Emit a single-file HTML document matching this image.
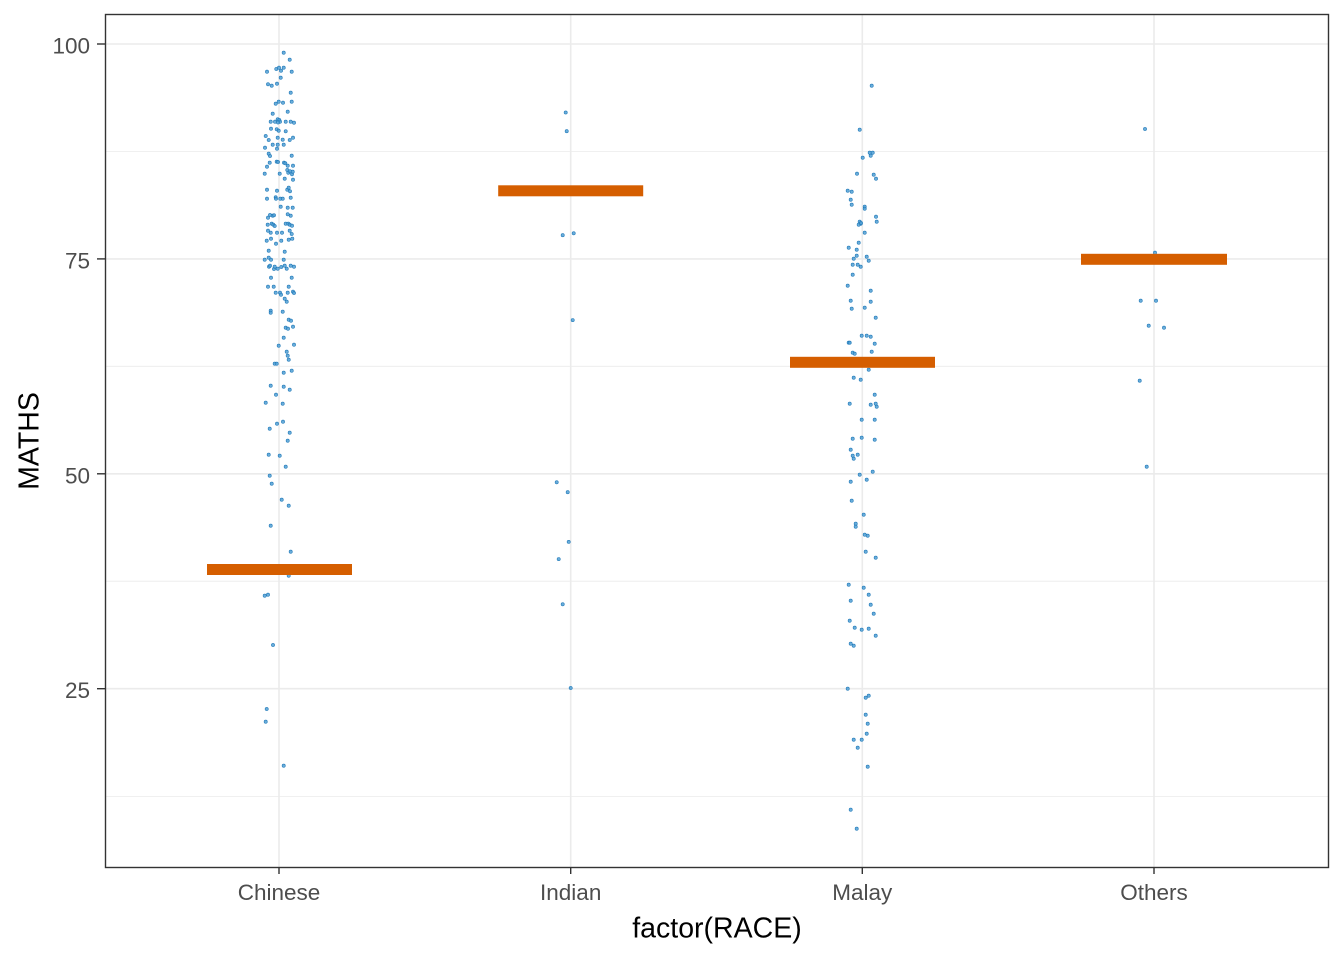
<!DOCTYPE html>
<html>
<head>
<meta charset="utf-8">
<style>
html,body{margin:0;padding:0;background:#fff;}
svg{display:block;}
</style>
</head>
<body>
<svg width="1344" height="960" viewBox="0 0 1344 960" xmlns="http://www.w3.org/2000/svg">
<rect x="0" y="0" width="1344" height="960" fill="#ffffff"/>
<!-- minor gridlines -->
<g stroke="#ebebeb" stroke-width="0.8">
<line x1="105.5" x2="1328.5" y1="151.5" y2="151.5"/>
<line x1="105.5" x2="1328.5" y1="366.3" y2="366.3"/>
<line x1="105.5" x2="1328.5" y1="581.2" y2="581.2"/>
<line x1="105.5" x2="1328.5" y1="796.6" y2="796.6"/>
</g>
<!-- major gridlines -->
<g stroke="#ebebeb" stroke-width="1.6">
<line x1="105.5" x2="1328.5" y1="44" y2="44"/>
<line x1="105.5" x2="1328.5" y1="258.9" y2="258.9"/>
<line x1="105.5" x2="1328.5" y1="473.8" y2="473.8"/>
<line x1="105.5" x2="1328.5" y1="688.7" y2="688.7"/>
<line x1="279" x2="279" y1="14.5" y2="867.5"/>
<line x1="570.7" x2="570.7" y1="14.5" y2="867.5"/>
<line x1="862.3" x2="862.3" y1="14.5" y2="867.5"/>
<line x1="1154" x2="1154" y1="14.5" y2="867.5"/>
</g>
<!-- points -->
<g fill="#4f9fd3" fill-opacity="0.85" stroke="#1f78b8" stroke-width="0.6">
<!-- Chinese -->
<circle cx="283.7" cy="52.7" r="1.6"/><circle cx="289.7" cy="59.7" r="1.6"/><circle cx="267" cy="71.7" r="1.6"/><circle cx="276.3" cy="69" r="1.6"/><circle cx="279" cy="67.7" r="1.6"/><circle cx="281" cy="70.7" r="1.6"/><circle cx="283.7" cy="67.7" r="1.6"/><circle cx="291.7" cy="71.7" r="1.6"/><circle cx="280.7" cy="77.7" r="1.6"/><circle cx="268" cy="84.3" r="1.6"/><circle cx="271.7" cy="85.7" r="1.6"/><circle cx="277" cy="83.7" r="1.6"/><circle cx="290.7" cy="92.7" r="1.6"/><circle cx="291.7" cy="101.7" r="1.6"/><circle cx="275.7" cy="103.7" r="1.6"/><circle cx="278.7" cy="101.7" r="1.6"/><circle cx="283" cy="102.7" r="1.6"/><circle cx="287.7" cy="111.7" r="1.6"/><circle cx="272.7" cy="113.7" r="1.6"/><circle cx="270.7" cy="121.7" r="1.6"/><circle cx="275" cy="121.7" r="1.6"/><circle cx="277.7" cy="119.3" r="1.6"/><circle cx="279.3" cy="120" r="1.6"/><circle cx="280" cy="121.7" r="1.6"/><circle cx="278" cy="122.5" r="1.6"/><circle cx="285.7" cy="121.7" r="1.6"/><circle cx="290.7" cy="121.7" r="1.6"/><circle cx="294" cy="122.7" r="1.6"/><circle cx="276.7" cy="129.3" r="1.6"/><circle cx="278.7" cy="130.7" r="1.6"/><circle cx="271" cy="128.7" r="1.6"/><circle cx="285.7" cy="131.3" r="1.6"/><circle cx="265.7" cy="136" r="1.6"/><circle cx="268.7" cy="140" r="1.6"/><circle cx="277.7" cy="137.7" r="1.6"/><circle cx="282.7" cy="139.7" r="1.6"/><circle cx="289.7" cy="140" r="1.6"/><circle cx="293" cy="137.7" r="1.6"/><circle cx="272.7" cy="144.7" r="1.6"/><circle cx="277.7" cy="144.7" r="1.6"/><circle cx="283.7" cy="144.7" r="1.6"/><circle cx="277" cy="148.7" r="1.6"/><circle cx="265" cy="147.7" r="1.6"/><circle cx="268.7" cy="153.7" r="1.6"/><circle cx="270" cy="156" r="1.6"/><circle cx="291.7" cy="155.7" r="1.6"/><circle cx="269.7" cy="162.7" r="1.6"/><circle cx="267" cy="166.7" r="1.6"/><circle cx="276.7" cy="161.7" r="1.6"/><circle cx="278" cy="162" r="1.6"/><circle cx="284" cy="162.7" r="1.6"/><circle cx="285.3" cy="163.3" r="1.6"/><circle cx="287.7" cy="165.7" r="1.6"/><circle cx="293" cy="165.7" r="1.6"/><circle cx="264.7" cy="173.7" r="1.6"/><circle cx="279.7" cy="173.7" r="1.6"/><circle cx="287.3" cy="170" r="1.6"/><circle cx="288.3" cy="172.7" r="1.6"/><circle cx="290" cy="171.3" r="1.6"/><circle cx="292" cy="174.3" r="1.6"/><circle cx="292.7" cy="171.7" r="1.6"/><circle cx="293" cy="179.7" r="1.6"/><circle cx="284.7" cy="178.7" r="1.6"/><circle cx="267" cy="189.7" r="1.6"/><circle cx="277" cy="190.7" r="1.6"/><circle cx="287.3" cy="189.7" r="1.6"/><circle cx="288.7" cy="187.7" r="1.6"/><circle cx="290" cy="191.3" r="1.6"/><circle cx="267" cy="198.7" r="1.6"/><circle cx="275.7" cy="197.3" r="1.6"/><circle cx="276" cy="198.7" r="1.6"/><circle cx="280.3" cy="198.7" r="1.6"/><circle cx="282.7" cy="198.7" r="1.6"/><circle cx="290.7" cy="197.7" r="1.6"/><circle cx="280.7" cy="206.7" r="1.6"/><circle cx="287.7" cy="207.7" r="1.6"/><circle cx="292.7" cy="207.7" r="1.6"/><circle cx="268" cy="217.7" r="1.6"/><circle cx="270" cy="215" r="1.6"/><circle cx="272.7" cy="215.7" r="1.6"/><circle cx="274" cy="215.3" r="1.6"/><circle cx="287.7" cy="214.3" r="1.6"/><circle cx="290.7" cy="215.7" r="1.6"/>
<circle cx="267.7" cy="224.7" r="1.6"/><circle cx="271.7" cy="223.7" r="1.6"/><circle cx="273.3" cy="224.7" r="1.6"/><circle cx="274.7" cy="226" r="1.6"/><circle cx="285.7" cy="223.7" r="1.6"/><circle cx="288.3" cy="223.7" r="1.6"/><circle cx="289.7" cy="224.7" r="1.6"/><circle cx="292" cy="225.7" r="1.6"/><circle cx="268" cy="230.7" r="1.6"/><circle cx="270.7" cy="232.7" r="1.6"/><circle cx="277" cy="232.7" r="1.6"/><circle cx="282" cy="232.7" r="1.6"/><circle cx="289.7" cy="230.7" r="1.6"/><circle cx="291.7" cy="234" r="1.6"/><circle cx="292.3" cy="238.7" r="1.6"/><circle cx="288.7" cy="239.7" r="1.6"/><circle cx="281.3" cy="240.7" r="1.6"/><circle cx="266.7" cy="240.7" r="1.6"/><circle cx="271" cy="238.7" r="1.6"/><circle cx="276" cy="243.7" r="1.6"/><circle cx="268.7" cy="250.7" r="1.6"/><circle cx="284.7" cy="251.7" r="1.6"/><circle cx="264.7" cy="259.7" r="1.6"/><circle cx="268.7" cy="257.7" r="1.6"/><circle cx="271" cy="259.7" r="1.6"/><circle cx="283.7" cy="259.7" r="1.6"/><circle cx="269" cy="266.7" r="1.6"/><circle cx="270" cy="265.7" r="1.6"/><circle cx="274" cy="269" r="1.6"/><circle cx="274.7" cy="266.7" r="1.6"/><circle cx="277.7" cy="268.7" r="1.6"/><circle cx="281.3" cy="267" r="1.6"/><circle cx="284.7" cy="265.7" r="1.6"/><circle cx="286.7" cy="268.7" r="1.6"/><circle cx="290.7" cy="265.7" r="1.6"/><circle cx="294" cy="266.7" r="1.6"/><circle cx="271" cy="277.7" r="1.6"/><circle cx="291.7" cy="277.7" r="1.6"/><circle cx="268" cy="286.7" r="1.6"/><circle cx="273.7" cy="286.7" r="1.6"/><circle cx="288.7" cy="286.7" r="1.6"/><circle cx="275.7" cy="292.7" r="1.6"/><circle cx="280" cy="292.7" r="1.6"/><circle cx="281" cy="294.7" r="1.6"/><circle cx="287.7" cy="292.7" r="1.6"/><circle cx="293" cy="291.7" r="1.6"/><circle cx="294" cy="293" r="1.6"/><circle cx="284.7" cy="298.7" r="1.6"/><circle cx="286.7" cy="301.7" r="1.6"/><circle cx="270.7" cy="310.7" r="1.6"/><circle cx="270.7" cy="312.7" r="1.6"/><circle cx="282.7" cy="311.7" r="1.6"/><circle cx="288.7" cy="319.7" r="1.6"/><circle cx="291" cy="320.7" r="1.6"/><circle cx="285.7" cy="327.7" r="1.6"/><circle cx="288" cy="328.7" r="1.6"/><circle cx="293" cy="326.7" r="1.6"/><circle cx="283.7" cy="337.7" r="1.6"/><circle cx="278.7" cy="345.7" r="1.6"/><circle cx="294" cy="344.7" r="1.6"/><circle cx="286.7" cy="351.7" r="1.6"/><circle cx="287.7" cy="355.7" r="1.6"/><circle cx="288.7" cy="359.7" r="1.6"/><circle cx="274.7" cy="363.7" r="1.6"/><circle cx="276.7" cy="363.7" r="1.6"/><circle cx="283.7" cy="372.7" r="1.6"/><circle cx="291.7" cy="370.7" r="1.6"/><circle cx="270.7" cy="385.7" r="1.6"/><circle cx="283.7" cy="386.7" r="1.6"/><circle cx="289.7" cy="389.7" r="1.6"/><circle cx="276" cy="394.7" r="1.6"/><circle cx="265.7" cy="402.7" r="1.6"/><circle cx="282.7" cy="403.7" r="1.6"/>
<circle cx="277" cy="423.7" r="1.6"/><circle cx="283" cy="421.7" r="1.6"/><circle cx="269.7" cy="428.7" r="1.6"/><circle cx="289.7" cy="432.7" r="1.6"/><circle cx="287.7" cy="440.7" r="1.6"/><circle cx="268.7" cy="454.7" r="1.6"/><circle cx="279.7" cy="455.7" r="1.6"/><circle cx="285.7" cy="466.7" r="1.6"/><circle cx="269.7" cy="475.7" r="1.6"/><circle cx="271.7" cy="483.7" r="1.6"/><circle cx="281.7" cy="499.7" r="1.6"/><circle cx="288.7" cy="505.7" r="1.6"/><circle cx="270.7" cy="525.7" r="1.6"/><circle cx="290.7" cy="551.7" r="1.6"/><circle cx="288.7" cy="575.7" r="1.6"/><circle cx="264.7" cy="595.7" r="1.6"/><circle cx="268" cy="594.7" r="1.6"/><circle cx="273" cy="645" r="1.6"/><circle cx="266.7" cy="709" r="1.6"/><circle cx="265.7" cy="721.7" r="1.6"/><circle cx="283.7" cy="765.7" r="1.6"/>
<!-- Indian -->
<circle cx="565.7" cy="112.5" r="1.6"/><circle cx="566.7" cy="131.2" r="1.6"/><circle cx="562.7" cy="235.2" r="1.6"/><circle cx="573.7" cy="233.3" r="1.6"/><circle cx="572.7" cy="320.1" r="1.6"/><circle cx="556.7" cy="482.3" r="1.6"/><circle cx="567.7" cy="492.2" r="1.6"/><circle cx="568.7" cy="541.9" r="1.6"/><circle cx="558.7" cy="559.1" r="1.6"/><circle cx="562.7" cy="604.3" r="1.6"/><circle cx="570.7" cy="688" r="1.6"/>
<!-- Malay -->
<circle cx="871.7" cy="85.7" r="1.6"/><circle cx="859.7" cy="129.7" r="1.6"/><circle cx="869.7" cy="152.7" r="1.6"/><circle cx="872.7" cy="152.7" r="1.6"/><circle cx="870.7" cy="155.7" r="1.6"/><circle cx="862.7" cy="157.7" r="1.6"/><circle cx="857" cy="173.7" r="1.6"/><circle cx="873.7" cy="174.7" r="1.6"/><circle cx="876" cy="178.7" r="1.6"/><circle cx="847.7" cy="190.7" r="1.6"/><circle cx="851.7" cy="191.7" r="1.6"/><circle cx="850.7" cy="199.7" r="1.6"/><circle cx="851.7" cy="204.7" r="1.6"/><circle cx="864.7" cy="206.7" r="1.6"/><circle cx="864.7" cy="208.7" r="1.6"/><circle cx="876" cy="216.7" r="1.6"/><circle cx="876.7" cy="221.7" r="1.6"/><circle cx="859.7" cy="221.7" r="1.6"/><circle cx="860.7" cy="223.7" r="1.6"/><circle cx="858.7" cy="224.7" r="1.6"/><circle cx="861" cy="223" r="1.6"/><circle cx="864.7" cy="232.7" r="1.6"/><circle cx="858.7" cy="242.7" r="1.6"/><circle cx="848.7" cy="247.7" r="1.6"/><circle cx="856.7" cy="249.7" r="1.6"/><circle cx="856.7" cy="255.7" r="1.6"/><circle cx="853.7" cy="258.7" r="1.6"/><circle cx="866.7" cy="256.7" r="1.6"/><circle cx="868.7" cy="260.7" r="1.6"/><circle cx="852.7" cy="264.7" r="1.6"/><circle cx="857.7" cy="264.7" r="1.6"/><circle cx="860.7" cy="266.7" r="1.6"/><circle cx="852.7" cy="274.7" r="1.6"/><circle cx="847.7" cy="285.7" r="1.6"/><circle cx="870.7" cy="290.7" r="1.6"/><circle cx="850.7" cy="300.7" r="1.6"/><circle cx="870.7" cy="301.7" r="1.6"/><circle cx="851.7" cy="308.7" r="1.6"/><circle cx="864.7" cy="307.7" r="1.6"/><circle cx="875.7" cy="317.7" r="1.6"/><circle cx="861.7" cy="335.7" r="1.6"/><circle cx="866.7" cy="335.7" r="1.6"/><circle cx="870.7" cy="336.7" r="1.6"/><circle cx="848.7" cy="342.7" r="1.6"/><circle cx="849.7" cy="342.7" r="1.6"/><circle cx="874.7" cy="343.7" r="1.6"/><circle cx="852.7" cy="352.7" r="1.6"/><circle cx="854.7" cy="353.7" r="1.6"/><circle cx="871.7" cy="351.7" r="1.6"/><circle cx="868.7" cy="369.7" r="1.6"/><circle cx="853.7" cy="377.7" r="1.6"/><circle cx="860.7" cy="379.7" r="1.6"/><circle cx="874.7" cy="394.7" r="1.6"/><circle cx="849.7" cy="403.7" r="1.6"/><circle cx="870.7" cy="404.7" r="1.6"/><circle cx="875.7" cy="403.7" r="1.6"/><circle cx="876.7" cy="406.7" r="1.6"/><circle cx="861.7" cy="419.7" r="1.6"/><circle cx="874.7" cy="419.7" r="1.6"/><circle cx="852.7" cy="438.7" r="1.6"/><circle cx="861.7" cy="437.7" r="1.6"/><circle cx="874.7" cy="439.7" r="1.6"/>
<circle cx="850.7" cy="449.7" r="1.6"/><circle cx="852.7" cy="455.7" r="1.6"/><circle cx="857.7" cy="454.7" r="1.6"/><circle cx="853.7" cy="458.7" r="1.6"/><circle cx="859.7" cy="474.7" r="1.6"/><circle cx="872.7" cy="471.7" r="1.6"/><circle cx="866.7" cy="479.7" r="1.6"/><circle cx="850.7" cy="481.7" r="1.6"/><circle cx="851.7" cy="500.7" r="1.6"/><circle cx="863.7" cy="514.7" r="1.6"/><circle cx="855.7" cy="523.7" r="1.6"/><circle cx="855.7" cy="526.7" r="1.6"/><circle cx="864.7" cy="534.7" r="1.6"/><circle cx="867.7" cy="535.7" r="1.6"/><circle cx="865.7" cy="551.7" r="1.6"/><circle cx="875.7" cy="557.7" r="1.6"/><circle cx="848.7" cy="584.7" r="1.6"/><circle cx="863.7" cy="587.7" r="1.6"/><circle cx="868.7" cy="594.7" r="1.6"/><circle cx="850.7" cy="600.7" r="1.6"/><circle cx="870.7" cy="604.7" r="1.6"/><circle cx="873.7" cy="613.7" r="1.6"/><circle cx="849.7" cy="620.7" r="1.6"/><circle cx="854.7" cy="627.7" r="1.6"/><circle cx="861.7" cy="629.7" r="1.6"/><circle cx="868.7" cy="628.7" r="1.6"/><circle cx="875.7" cy="635.7" r="1.6"/><circle cx="850.7" cy="643.7" r="1.6"/><circle cx="853.7" cy="645.7" r="1.6"/><circle cx="847.7" cy="688.7" r="1.6"/><circle cx="865.7" cy="697.7" r="1.6"/><circle cx="868.7" cy="695.7" r="1.6"/><circle cx="865.7" cy="714.7" r="1.6"/><circle cx="867.7" cy="723.7" r="1.6"/><circle cx="866.7" cy="733.7" r="1.6"/><circle cx="853.7" cy="739.7" r="1.6"/><circle cx="861.7" cy="739.7" r="1.6"/><circle cx="857.7" cy="747.7" r="1.6"/><circle cx="867.7" cy="766.7" r="1.6"/><circle cx="850.7" cy="809.7" r="1.6"/><circle cx="856.7" cy="828.7" r="1.6"/>
<!-- Others -->
<circle cx="1145" cy="129" r="1.6"/><circle cx="1155" cy="252.7" r="1.6"/><circle cx="1140.7" cy="300.7" r="1.6"/><circle cx="1156" cy="300.7" r="1.6"/><circle cx="1148.7" cy="325.7" r="1.6"/><circle cx="1164" cy="327.7" r="1.6"/><circle cx="1139.7" cy="380.7" r="1.6"/><circle cx="1146.7" cy="466.7" r="1.6"/>
</g>
<!-- mean bars -->
<g fill="#D55E00">
<rect x="207" y="564" width="145" height="11"/>
<rect x="498.2" y="185.3" width="145" height="11"/>
<rect x="790" y="356.8" width="145" height="11"/>
<rect x="1081" y="253.8" width="146" height="11"/>
</g>
<!-- panel border -->
<rect x="105.5" y="14.5" width="1223" height="853" fill="none" stroke="#333333" stroke-width="1.4"/>
<!-- ticks -->
<g stroke="#333333" stroke-width="1.4">
<line x1="97" x2="105.5" y1="44" y2="44"/>
<line x1="97" x2="105.5" y1="258.9" y2="258.9"/>
<line x1="97" x2="105.5" y1="473.8" y2="473.8"/>
<line x1="97" x2="105.5" y1="688.7" y2="688.7"/>
<line x1="279" x2="279" y1="867.5" y2="874"/>
<line x1="570.7" x2="570.7" y1="867.5" y2="874"/>
<line x1="862.3" x2="862.3" y1="867.5" y2="874"/>
<line x1="1154" x2="1154" y1="867.5" y2="874"/>
</g>
<!-- tick labels -->
<g font-family="Liberation Sans, Arial, sans-serif" font-size="22.5" fill="#4d4d4d">
<text x="90" y="53.5" text-anchor="end">100</text>
<text x="90" y="268.4" text-anchor="end">75</text>
<text x="90" y="483.3" text-anchor="end">50</text>
<text x="90" y="698.2" text-anchor="end">25</text>
<text x="279" y="900" text-anchor="middle">Chinese</text>
<text x="570.7" y="900" text-anchor="middle">Indian</text>
<text x="862.3" y="900" text-anchor="middle">Malay</text>
<text x="1154" y="900" text-anchor="middle">Others</text>
</g>
<!-- axis titles -->
<g font-family="Liberation Sans, Arial, sans-serif" font-size="28.5" fill="#000000">
<text x="717" y="937.5" text-anchor="middle">factor(RACE)</text>
<text transform="translate(38.5,441) rotate(-90)" text-anchor="middle">MATHS</text>
</g>
</svg>
</body>
</html>
